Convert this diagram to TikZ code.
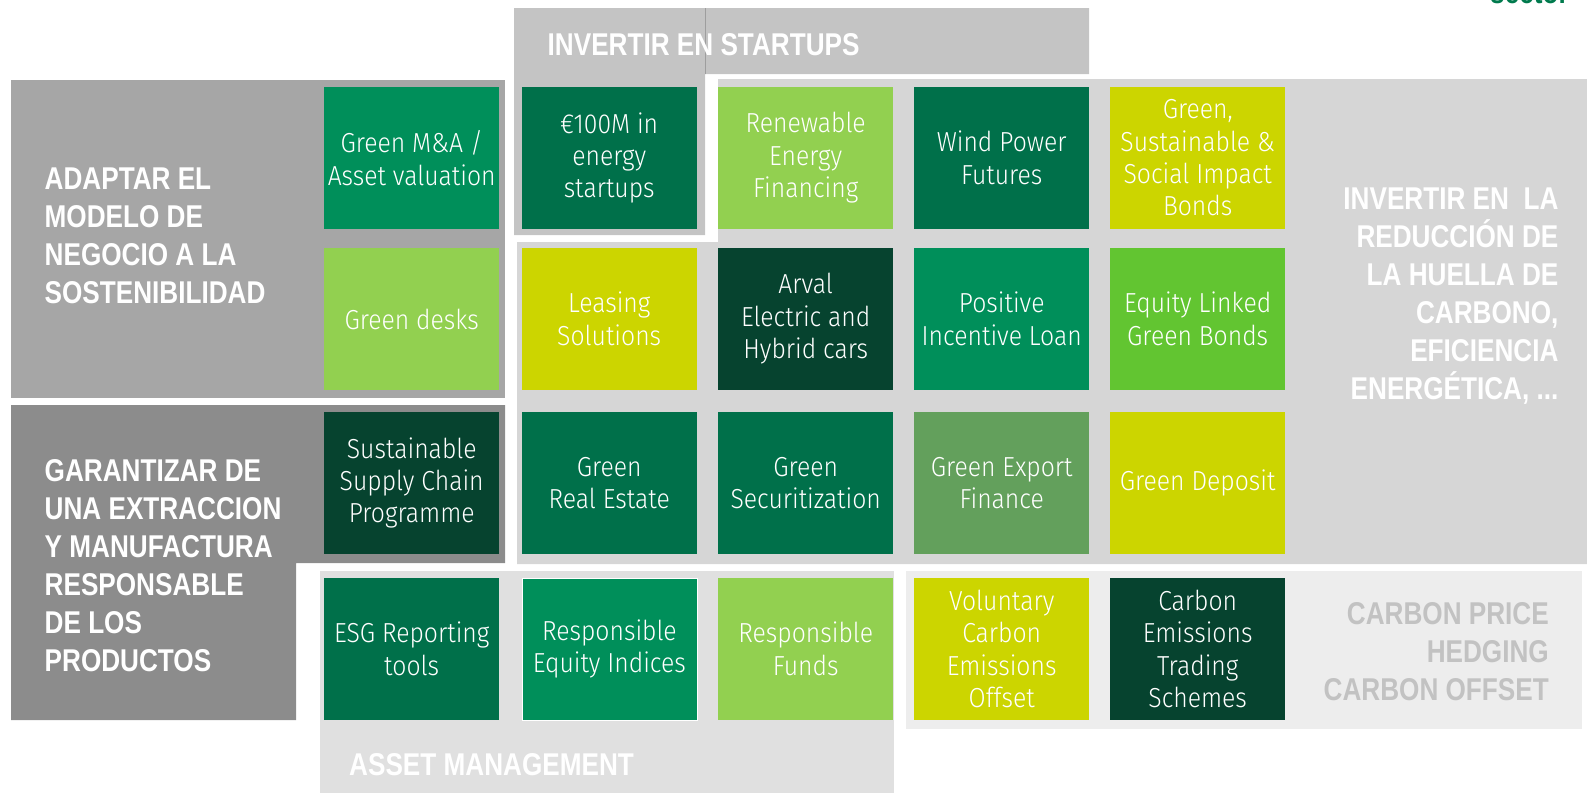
\documentclass[tikz,border=0pt]{standalone}
\usepackage{fontspec}
\IfFontExistsTF{Fira Sans Light}
  {\newfontfamily\boxfont{Fira Sans Light}[FakeStretch=0.9]}
  {\newfontfamily\boxfont{Fira Sans}[FakeStretch=0.9]}
\newfontfamily\headfont{Liberation Sans}[FakeStretch=0.83]
\definecolor{gDark}{HTML}{00704A}
\definecolor{gMid}{HTML}{008F5A}
\definecolor{gLight}{HTML}{92D050}
\definecolor{gYel}{HTML}{CCD500}
\definecolor{gDeep}{HTML}{06432F}
\definecolor{gBright}{HTML}{62C531}
\definecolor{gMuted}{HTML}{63A05C}
\definecolor{bgStart}{HTML}{C4C4C4}
\definecolor{bgAdapt}{HTML}{A6A6A6}
\definecolor{bgGarant}{HTML}{8C8C8C}
\definecolor{bgReduc}{HTML}{D6D6D6}
\definecolor{bgAsset}{HTML}{E0E0E0}
\definecolor{bgCarbon}{HTML}{EDEDED}
\definecolor{carbonTxt}{HTML}{C2C2C2}
\definecolor{topGreen}{HTML}{007A4D}
\tikzset{
  cell/.style={anchor=north west, minimum width=175pt, minimum height=141.5pt,
    inner sep=0pt, text=white, align=center,
    font=\boxfont\fontsize{27.5}{32.4}\selectfont},
  head/.style={text=white, inner sep=0pt,
    font=\headfont\bfseries\fontsize{31.5}{38}\selectfont},
}
\begin{document}
\begin{tikzpicture}[x=1pt,y=-1pt]
\useasboundingbox (0,0) rectangle (1587,793);
\clip (0,0) rectangle (1587,793);
% background regions
\fill[bgStart] (514,8) -- (1089,8) -- (1089,74) -- (705,74) -- (705,235) -- (514,235) -- cycle;
\draw[black!38, line width=1pt] (705,8) -- (705,74);
\fill[bgAdapt] (11,80) rectangle (505,398);
\fill[bgGarant] (11,405) -- (505,405) -- (505,563) -- (296,563) -- (296,720) -- (11,720) -- cycle;
\fill[bgReduc] (718,79) -- (1587,79) -- (1587,564) -- (517,564) -- (517,242) -- (718,242) -- cycle;
\fill[bgAsset] (320,571) rectangle (894,793);
\fill[bgCarbon] (906,571) rectangle (1582,729);
% partially visible title at top right
\node[anchor=base west, inner sep=0pt, text=topGreen,
  font=\headfont\bfseries\fontsize{31.5}{38}\selectfont] (sector) at (1490,3) {sector};
% headers
\node[head, anchor=west] (startups) at (547.5,45) {INVERTIR EN STARTUPS};
\node[head, anchor=west, align=left] (adaptar) at (44.5,236) {ADAPTAR EL\\MODELO DE\\NEGOCIO A LA\\SOSTENIBILIDAD};
\node[head, anchor=west, align=left] (garant) at (44.5,566) {GARANTIZAR DE\\UNA EXTRACCION\\Y MANUFACTURA\\RESPONSABLE\\DE LOS\\PRODUCTOS};
\node[head, anchor=east, align=right] (reduc) at (1558.6,296.5) {INVERTIR EN~ LA\\REDUCCIÓN DE\\LA HUELLA DE\\CARBONO,\\EFICIENCIA\\ENERGÉTICA, ...};
\node[head, anchor=east, align=right, text=carbonTxt] (carbon) at (1549,651.5) {CARBON PRICE\\HEDGING\\CARBON OFFSET};
\node[head, anchor=west] (asset) at (349,765) {ASSET MANAGEMENT};
% row 1
\node[cell, fill=gMid]   (ma)    at (324,87)   {Green M\&A /\\Asset valuation};
\node[cell, fill=gDark]  (eur)   at (521.5,87) {€100M in\\energy\\startups};
\node[cell, fill=gLight] (renew) at (718,87)   {Renewable\\Energy\\Financing};
\node[cell, fill=gDark]  (wind)  at (914,87)   {Wind Power\\Futures};
\node[cell, fill=gYel]   (gssb)  at (1110,87)  {Green,\\Sustainable \&\\Social Impact\\Bonds};
% row 2
\node[cell, fill=gLight]  (desks)   at (324,248)   {Green desks};
\node[cell, fill=gYel]    (leasing) at (521.5,248) {Leasing\\Solutions};
\node[cell, fill=gDeep]   (arval)   at (718,248)   {Arval\\Electric and\\Hybrid cars};
\node[cell, fill=gMid]    (pil)     at (914,248)   {Positive\\Incentive Loan};
\node[cell, fill=gBright] (elgb)    at (1110,248)  {Equity Linked\\Green Bonds};
% row 3
\node[cell, fill=gDeep]  (supply) at (324,412)   {Sustainable\\Supply Chain\\Programme};
\node[cell, fill=gDark]  (gre)    at (521.5,412) {Green\\Real Estate};
\node[cell, fill=gDark]  (gsec)   at (718,412)   {Green\\Securitization};
\node[cell, fill=gMuted] (gexp)   at (914,412)   {Green Export\\Finance};
\node[cell, fill=gYel]   (gdep)   at (1110,412)  {Green Deposit};
% row 4
\node[cell, fill=gDark]  (esg)   at (324,578)   {ESG Reporting\\tools};
\node[cell, fill=gMid, draw=white, line width=0.8pt] (rei) at (521.5,578) {Responsible\\Equity Indices};
\node[cell, fill=gLight] (rfund) at (718,578)   {Responsible\\Funds};
\node[cell, fill=gYel]   (vceo)  at (914,578)   {Voluntary\\Carbon\\Emissions\\Offset};
\node[cell, fill=gDeep]  (cets)  at (1110,578)  {Carbon\\Emissions\\Trading\\Schemes};
\end{tikzpicture}
\end{document}
